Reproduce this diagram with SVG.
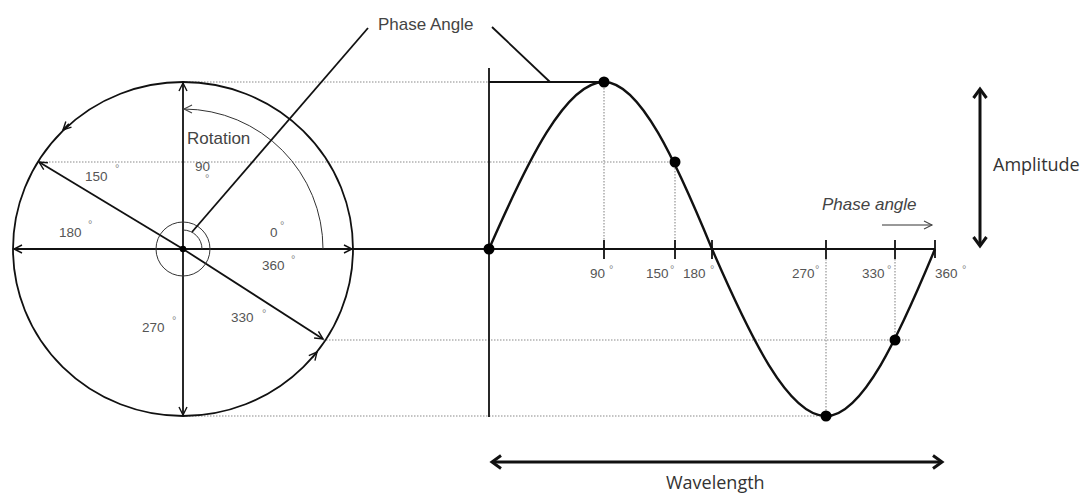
<svg xmlns="http://www.w3.org/2000/svg" width="1092" height="493" viewBox="0 0 1092 493">
<defs>
<style>
.ln{stroke:#111;stroke-width:1.8;fill:none}
.thin{stroke:#333;stroke-width:1;fill:none}
.dot{stroke:#8a8a8a;stroke-width:1.1;stroke-dasharray:1.5 1.5;fill:none}
.big{stroke:#111;stroke-width:3;fill:none}
.num{font-family:"Liberation Sans",Arial,sans-serif;font-size:13.5px;fill:#555}
.deg{font-family:"Liberation Sans",Arial,sans-serif;font-size:11px;fill:#888}
.lbl{font-family:"Liberation Sans",Arial,sans-serif;font-size:17px;fill:#444}
.cal{font-family:"Open Sans","Noto Sans",sans-serif;font-size:18px;fill:#333}
.pt{fill:#000}
</style>
<marker id="open" markerUnits="userSpaceOnUse" markerWidth="12" markerHeight="12" refX="9" refY="5" orient="auto-start-reverse" viewBox="0 0 12 12">
<path d="M1,1 L9,5 L1,9" fill="none" stroke="#111" stroke-width="1.4"/>
</marker>
<marker id="openg" markerUnits="userSpaceOnUse" markerWidth="12" markerHeight="12" refX="9" refY="5" orient="auto-start-reverse" viewBox="0 0 12 12">
<path d="M1,1 L9,5 L1,9" fill="none" stroke="#444" stroke-width="1.1"/>
</marker>
<marker id="thick" markerUnits="userSpaceOnUse" markerWidth="16" markerHeight="16" refX="11" refY="8" orient="auto-start-reverse" viewBox="0 0 16 16">
<path d="M2,1.5 L11,8 L2,14.5" fill="none" stroke="#111" stroke-width="3" stroke-linejoin="miter"/>
</marker>
</defs>
<rect width="1092" height="493" fill="#fff"/>

<g id="guides">
<line class="dot" x1="183" y1="82" x2="489" y2="82"/>
<line class="dot" x1="40" y1="162" x2="675" y2="162"/>
<line class="dot" x1="323" y1="340" x2="910" y2="340"/>
<line class="dot" x1="183" y1="416" x2="826" y2="416"/>
<line class="dot" x1="604" y1="82" x2="604" y2="249"/>
<line class="dot" x1="675" y1="162" x2="675" y2="249"/>
<line class="dot" x1="826" y1="259" x2="826" y2="416"/>
<line class="dot" x1="895" y1="259" x2="895" y2="340"/>
</g>

<g id="phasor-circle">
<ellipse class="ln" cx="183" cy="249" rx="170" ry="167"/>
<line class="ln" x1="183" y1="249" x2="14" y2="249" marker-end="url(#open)"/>
<line class="ln" x1="183" y1="249" x2="352" y2="249" marker-end="url(#open)"/>
<line class="ln" x1="183" y1="249" x2="183" y2="83" marker-end="url(#open)"/>
<line class="ln" x1="183" y1="249" x2="183" y2="415" marker-end="url(#open)"/>
<line class="ln" x1="183" y1="249" x2="39" y2="162" marker-end="url(#open)"/>
<line class="ln" x1="183" y1="249" x2="323" y2="339" marker-end="url(#open)"/>
<line class="ln" x1="69" y1="124" x2="63" y2="130" marker-end="url(#open)"/>
<line class="ln" x1="312" y1="358" x2="317" y2="352" marker-end="url(#open)"/>
<path class="thin" d="M323,249 A140,140 0 0 0 184,109" marker-end="url(#openg)"/>
<circle class="thin" cx="183" cy="249" r="27"/>
<path class="thin" d="M202,249 A19,19 0 0 0 183,230"/>
<circle class="pt" cx="183" cy="249" r="3.2"/>
</g>

<g id="axis">
<line class="ln" x1="352" y1="249" x2="935" y2="249"/>
<line class="ln" x1="489" y1="68" x2="489" y2="417"/>
<line class="ln" x1="489" y1="82" x2="604" y2="82"/>
<line class="ln" x1="604" y1="240" x2="604" y2="259"/>
<line class="ln" x1="675" y1="240" x2="675" y2="259"/>
<line class="ln" x1="712" y1="240" x2="712" y2="259"/>
<line class="ln" x1="826" y1="240" x2="826" y2="259"/>
<line class="ln" x1="895" y1="240" x2="895" y2="259"/>
<line class="ln" x1="935" y1="240" x2="935" y2="258"/>
</g>

<g id="sine-wave">
<path d="M489,249 C527.3,161.6 565.7,82 604,82 C640,82 676,161.6 712,249 C750,336.4 788,416 826,416 C862.3,416 898.7,336.4 935,249" fill="none" stroke="#111" stroke-width="2.4"/>
<circle class="pt" cx="489" cy="249" r="5.5"/>
<circle class="pt" cx="604" cy="82" r="5.5"/>
<circle class="pt" cx="675" cy="162" r="5.5"/>
<circle class="pt" cx="826" cy="416" r="5.5"/>
<circle class="pt" cx="895" cy="340" r="5.5"/>
</g>

<g id="connectors">
<line class="ln" x1="368" y1="28" x2="192" y2="232" stroke-width="1.6"/>
<line class="ln" x1="492" y1="27" x2="550" y2="82" stroke-width="1.6"/>
<line class="thin" x1="882" y1="225" x2="932" y2="225" marker-end="url(#openg)"/>
<line class="big" x1="980" y1="89" x2="980" y2="246" marker-start="url(#thick)" marker-end="url(#thick)"/>
<line class="big" x1="492" y1="462" x2="942" y2="462" marker-start="url(#thick)" marker-end="url(#thick)"/>
</g>

<g id="labels">
<text class="lbl" x="378" y="30">Phase Angle</text>
<text class="lbl" x="187" y="144">Rotation</text>
<text class="lbl" x="822" y="210" font-style="italic">Phase angle</text>
<text class="cal" x="993" y="171">Amplitude</text>
<text class="cal" x="666" y="489">Wavelength</text>

<text class="num" x="85" y="181">150</text><text class="deg" x="115" y="172">°</text>
<text class="num" x="195" y="171">90</text><text class="deg" x="205" y="182">°</text>
<text class="num" x="59" y="237">180</text><text class="deg" x="88" y="228">°</text>
<text class="num" x="270" y="237">0</text><text class="deg" x="280" y="229">°</text>
<text class="num" x="262" y="270">360</text><text class="deg" x="291" y="263">°</text>
<text class="num" x="142" y="332">270</text><text class="deg" x="172" y="324">°</text>
<text class="num" x="231" y="322">330</text><text class="deg" x="262" y="317">°</text>

<text class="num" x="590" y="278">90</text><text class="deg" x="609" y="273">°</text>
<text class="num" x="646" y="278">150</text><text class="deg" x="670" y="273">°</text>
<text class="num" x="683" y="278">180</text><text class="deg" x="710" y="273">°</text>
<text class="num" x="792" y="278">270</text><text class="deg" x="815" y="273">°</text>
<text class="num" x="862" y="278">330</text><text class="deg" x="887" y="273">°</text>
<text class="num" x="935" y="278">360</text><text class="deg" x="962" y="273">°</text>
</g>
</svg>
